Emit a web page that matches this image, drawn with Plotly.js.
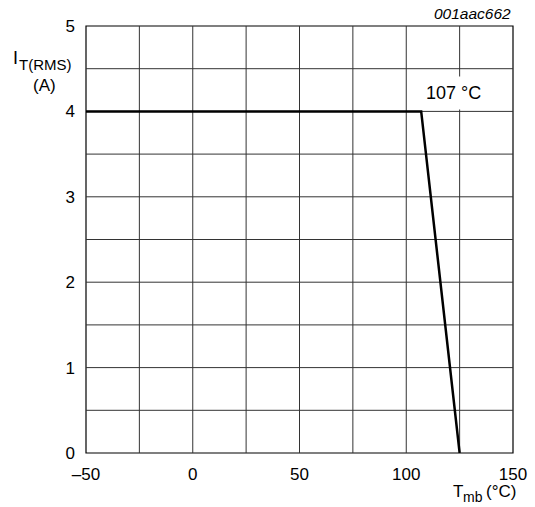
<!DOCTYPE html>
<html>
<head>
<meta charset="utf-8">
<script src="https://cdn.plot.ly/plotly-3.0.1.min.js"></script>
<style>html,body{margin:0;padding:0;background:#fff;}#chart{width:535px;height:507px;}</style>
</head>
<body>
<div id="chart"></div>
<script>
// Data: derating curve
const tempMb = [-50, 107, 125];
const currentRms = [4, 4, 0];
const xTicks = [-50, 0, 50, 100, 150];
const yTicks = [0, 1, 2, 3, 4, 5];
const kneeLabel = "107 °C";
const figId = "001aac662";

const L = 86, R = 22, T = 26, B = 54, W = 535, H = 507;
const pw = W - L - R, ph = H - T - B;
function px2paperX(px) { return (px - L) / pw; }
function px2paperY(py) { return (H - B - py) / ph; }

const fam = "Liberation Sans, Arial, sans-serif";
function f(size) { return {family: fam, size: size, color: "#000"}; }

const trace = {
  x: tempMb, y: currentRms, mode: "lines", type: "scatter",
  line: {color: "#000", width: 2.5}, hoverinfo: "skip"
};

const layout = {
  width: W, height: H,
  margin: {l: L, r: R, t: T, b: B, pad: 0},
  paper_bgcolor: "#fff", plot_bgcolor: "#fff",
  showlegend: false,
  font: f(17),
  xaxis: {
    range: [-50, 150], tickmode: "array", tickvals: xTicks,
    ticktext: xTicks.map(v => v < 0 ? "\u2013" + Math.abs(v) : String(v)),
    showgrid: false, zeroline: false, showline: false,
    ticks: "", ticklabelstandoff: 9, tickfont: f(17), fixedrange: true
  },
  yaxis: {
    range: [0, 5], tickmode: "array", tickvals: yTicks,
    showgrid: false, zeroline: false, showline: false,
    ticks: "", ticklabelstandoff: 10, tickfont: f(17), fixedrange: true
  },
  shapes: [],
  annotations: [
    {xref: "x", yref: "y", x: 122.3, y: 4.22, text: kneeLabel, showarrow: false,
     font: f(18), bgcolor: "#fff", borderpad: 6, xanchor: "center", yanchor: "middle"},
    {xref: "paper", yref: "paper", x: 1, y: px2paperY(3), text: "<i>" + figId + "</i>",
     showarrow: false, xanchor: "right", yanchor: "top", font: f(15.5)},
    {xref: "paper", yref: "paper", x: px2paperX(11), y: px2paperY(46), text: "I",
     showarrow: false, xanchor: "left", yanchor: "top", font: f(18)},
    {xref: "paper", yref: "paper", x: px2paperX(17), y: px2paperY(54), text: "T(RMS)",
     showarrow: false, xanchor: "left", yanchor: "top", font: f(15)},
    {xref: "paper", yref: "paper", x: px2paperX(44), y: px2paperY(74), text: "(A)",
     showarrow: false, xanchor: "center", yanchor: "top", font: f(17)},
    {xref: "paper", yref: "paper", x: px2paperX(451), y: px2paperY(480), text: "T",
     showarrow: false, xanchor: "left", yanchor: "top", font: f(17)},
    {xref: "paper", yref: "paper", x: px2paperX(461), y: px2paperY(487), text: "mb",
     showarrow: false, xanchor: "left", yanchor: "top", font: f(14)},
    {xref: "paper", yref: "paper", x: px2paperX(484), y: px2paperY(480), text: "(°C)",
     showarrow: false, xanchor: "left", yanchor: "top", font: f(17)}
  ]
};

// grid lines (every 25 °C and 0.5 A)
for (let xv = -25; xv < 150; xv += 25) {
  layout.shapes.push({type: "line", xref: "x", yref: "y", x0: xv, x1: xv, y0: 0, y1: 5,
    line: {color: "#333", width: 1}, layer: "below"});
}
for (let yv = 0.5; yv < 5; yv += 0.5) {
  layout.shapes.push({type: "line", xref: "x", yref: "y", x0: -50, x1: 150, y0: yv, y1: yv,
    line: {color: "#333", width: 1}, layer: "below"});
}
layout.shapes.push({type: "rect", xref: "paper", yref: "paper", x0: 0, x1: 1, y0: 0, y1: 1,
  line: {color: "#000", width: 1.2}, layer: "below"});

Plotly.newPlot("chart", [trace], layout, {displayModeBar: false, staticPlot: true});
</script>
</body>
</html>
